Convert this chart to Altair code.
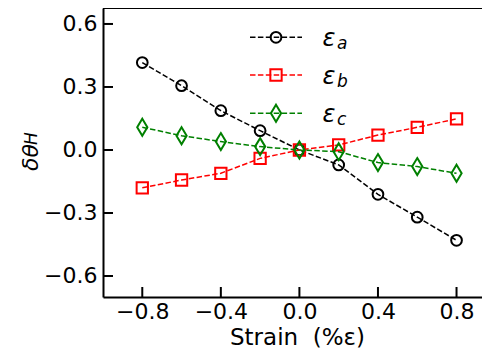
import altair as alt
import pandas as pd

strain = [-0.8, -0.6, -0.4, -0.2, 0.0, 0.2, 0.4, 0.6, 0.8]
eps_a = [0.416, 0.306, 0.187, 0.092, 0.0, -0.071, -0.211, -0.32, -0.43]
eps_b = [-0.18, -0.143, -0.111, -0.04, 0.0, 0.024, 0.071, 0.108, 0.148]
eps_c = [0.108, 0.068, 0.04, 0.016, 0.0, -0.008, -0.06, -0.079, -0.111]
x_ticks = [-0.8, -0.4, 0.0, 0.4, 0.8]
y_ticks = [-0.6, -0.3, 0.0, 0.3, 0.6]
subs = ["a", "b", "c"]
colors = ["#000000", "#ff0000", "#008000"]
shapes = ["circle", "square", "M0,-1L0.6,0L0,1L-0.6,0Z"]
sizes = [115, 128, 289]
values = [eps_a, eps_b, eps_c]
x_title = "Strain\u00a0\u00a0(%ε)"

W, H = 379, 289
FONT = "DejaVu Sans"
xs = alt.Scale(domain=[-1.0, 0.9297], nice=False, zero=False)
ys = alt.Scale(domain=[-0.7, 0.676], nice=False, zero=False)

xaxis = alt.Axis(values=x_ticks, format=".1f", ticks=False, grid=False,
                 domainColor="black", domainWidth=2, labelFontSize=22,
                 labelFont=FONT, labelColor="black", labelPadding=4,
                 title="")
yaxis = alt.Axis(values=y_ticks, format=".1f", ticks=False, grid=False,
                 domainColor="black", domainWidth=2, labelFontSize=22,
                 labelFont=FONT, labelColor="black", labelPadding=6,
                 title="")

layers = []
for name, vals, col, shp, sz in zip(subs, values, colors, shapes, sizes):
    df = pd.DataFrame({"x": strain, "y": vals})
    base = alt.Chart(df).encode(
        x=alt.X("x:Q", scale=xs, axis=xaxis),
        y=alt.Y("y:Q", scale=ys, axis=yaxis),
    )
    layers.append(base.mark_line(color=col, strokeWidth=1.5, strokeDash=[5.5, 2.4]))
    layers.append(base.mark_point(color=col, shape=shp, size=sz, filled=False,
                                  strokeWidth=2, opacity=1))

# inward ticks
xt = pd.DataFrame({"t": x_ticks})
yt = pd.DataFrame({"t": y_ticks})
layers.append(alt.Chart(xt).mark_rule(color="black", strokeWidth=2).encode(
    x=alt.X("t:Q", scale=xs, axis=xaxis), y=alt.value(H - 10), y2=alt.value(H)))
layers.append(alt.Chart(yt).mark_rule(color="black", strokeWidth=2).encode(
    y=alt.Y("t:Q", scale=ys, axis=yaxis), x=alt.value(0), x2=alt.value(10)))

one = alt.Data(values=[{"k": 1}])
# top spine
layers.append(alt.Chart(one).mark_rule(color="black", strokeWidth=2).encode(
    x=alt.value(0), x2=alt.value(W), y=alt.value(0)))

# legend
rows = [29.3, 67.0, 105.3]
for name, col, shp, sz, ry in zip(subs, colors, shapes, sizes, rows):
    layers.append(alt.Chart(one).mark_rule(color=col, strokeWidth=1.5, strokeDash=[5.5, 2.4]).encode(
        x=alt.value(147), x2=alt.value(199), y=alt.value(ry)))
    layers.append(alt.Chart(one).mark_point(color=col, shape=shp, size=sz, filled=False,
                                            strokeWidth=2, opacity=1).encode(
        x=alt.value(173), y=alt.value(ry)))
    layers.append(alt.Chart(one).mark_text(text="ε", font=FONT, fontSize=24, fontStyle="italic",
                                           align="left", baseline="alphabetic", color="black").encode(
        x=alt.value(219.5), y=alt.value(ry + 8.7)))
    layers.append(alt.Chart(one).mark_text(text=name, font=FONT, fontSize=17, fontStyle="italic",
                                           align="left", baseline="alphabetic", color="black").encode(
        x=alt.value(234), y=alt.value(ry + 12)))

# y title
layers.append(alt.Chart(one).mark_text(text="δθ", font=FONT, fontSize=22, fontStyle="italic",
                                       angle=270, align="left", baseline="alphabetic",
                                       color="black").encode(x=alt.value(-65), y=alt.value(163)))
layers.append(alt.Chart(one).mark_text(text="H", font=FONT, fontSize=17, fontStyle="italic",
                                       angle=270, align="left", baseline="alphabetic",
                                       color="black").encode(x=alt.value(-66), y=alt.value(137)))
# x title
layers.append(alt.Chart(one).mark_text(text=x_title, font=FONT, fontSize=23,
                                       align="left", baseline="alphabetic",
                                       color="black").encode(x=alt.value(127), y=alt.value(337)))

chart = alt.layer(*layers).properties(
    width=W, height=H,
    padding={"left": 95, "top": 0, "right": 0, "bottom": 56},
    autosize=alt.AutoSizeParams(type="none"),
).configure_view(strokeWidth=0)

chart.save("out.html", embed_options={"renderer": "svg", "actions": False})
